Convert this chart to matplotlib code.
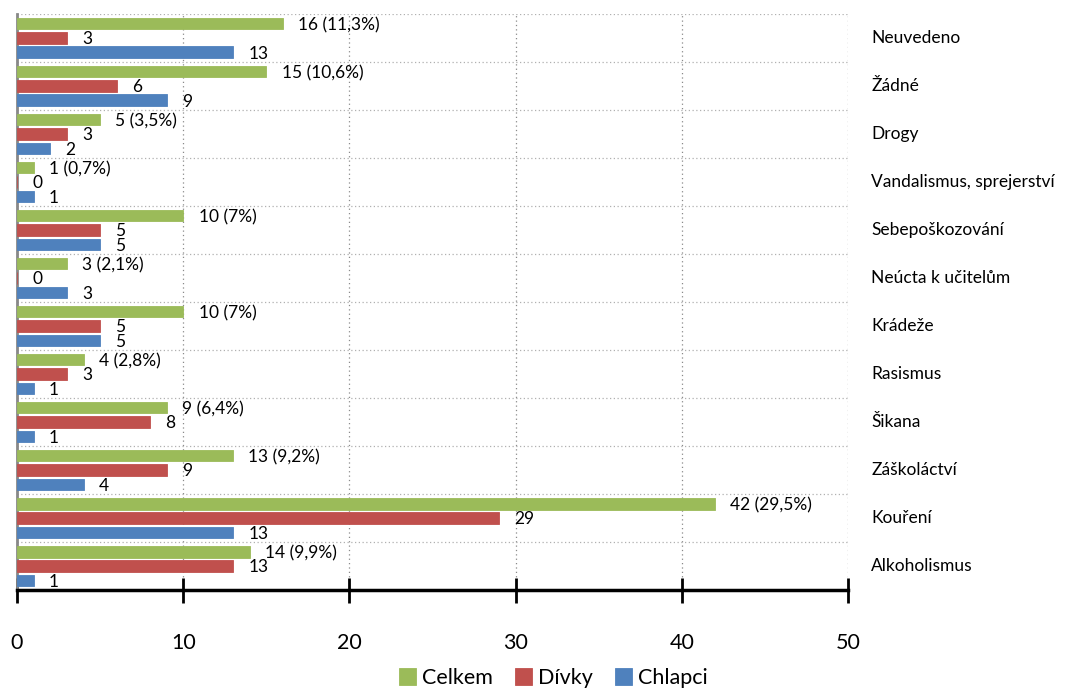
import matplotlib.pyplot as plt
import numpy as np

# categories from top to bottom, as in the picture
categories = ['Neuvedeno', 'Žádné', 'Drogy', 'Vandalismus, sprejerství',
              'Sebepoškozování', 'Neúcta k učitelům', 'Krádeže', 'Rasismus',
              'Šikana', 'Záškoláctví', 'Kouření', 'Alkoholismus']
celkem = [16, 15, 5, 1, 10, 3, 10, 4, 9, 13, 42, 14]
celkem_pct = ['11,3%', '10,6%', '3,5%', '0,7%', '7%', '2,1%', '7%', '2,8%',
              '6,4%', '9,2%', '29,5%', '9,9%']
divky = [3, 6, 3, 0, 5, 0, 5, 3, 8, 9, 29, 13]
chlapci = [13, 9, 2, 1, 5, 3, 5, 1, 1, 4, 13, 1]
x_ticks = [0, 10, 20, 30, 40, 50]

colors = {'Celkem': '#9BBB59', 'Dívky': '#C0504D', 'Chlapci': '#4F81BD'}

plt.rcParams['font.family'] = ['Lato', 'DejaVu Sans']

fig = plt.figure(figsize=(10.85, 6.88), dpi=100)
ax = fig.add_axes([0.0157, 0.1424, 0.7659, 0.8373])

n = len(categories)
y = np.arange(n)[::-1]  # top category gets highest y
off = 0.30
h = 0.245

series = [('Celkem', celkem, off), ('Dívky', divky, 0), ('Chlapci', chlapci, -off)]
for name, vals, dy in series:
    ax.barh(y + dy, vals, height=h, color=colors[name], edgecolor=colors[name],
            linewidth=0.6, label=name, zorder=3)

for i in range(n):
    ax.annotate(f"{celkem[i]} ({celkem_pct[i]})", (celkem[i], y[i] + off),
                xytext=(11, -1), textcoords='offset points', va='center',
                ha='left', fontsize=12.5, zorder=4)
    ax.annotate(str(divky[i]), (divky[i], y[i]), xytext=(11, -1),
                textcoords='offset points', va='center', ha='left',
                fontsize=12.5, zorder=4)
    ax.annotate(str(chlapci[i]), (chlapci[i], y[i] - off), xytext=(11, -1),
                textcoords='offset points', va='center', ha='left',
                fontsize=12.5, zorder=4)
    # category names on the right side
    ax.text(51.4, y[i], categories[i], va='center', ha='left', fontsize=12.5,
            clip_on=False)

ax.set_xlim(0, 50)
ax.set_ylim(-0.5, n - 0.5)

# grid: dotted vertical at ticks, dotted horizontal between categories
for xv in x_ticks[1:]:
    ax.axvline(xv, color='#8a8a8a', linestyle=(0, (1, 2.5)), linewidth=0.9, zorder=1)
for yb in np.arange(n) + 0.5:
    ax.axhline(yb, color='#b0b0b0', linestyle=(0, (1, 2)), linewidth=0.9, zorder=1)

ax.set_xticks(x_ticks)
ax.set_xticklabels([str(v) for v in x_ticks], fontsize=15.5)
ax.tick_params(axis='x', direction='inout', length=18, width=2, color='black', pad=22)
ax.set_yticks([])

for s in ['top', 'right']:
    ax.spines[s].set_visible(False)
ax.spines['bottom'].set_linewidth(2.5)
ax.spines['bottom'].set_color('black')
ax.spines['left'].set_linewidth(2)
ax.spines['left'].set_color('#888888')

fig.legend(loc='lower center', bbox_to_anchor=(0.51, -0.028), ncol=3, frameon=False,
           fontsize=15.5, handlelength=0.8, handleheight=0.8, handletextpad=0.3,
           columnspacing=1.0)

fig.savefig('out.png', dpi=100)
